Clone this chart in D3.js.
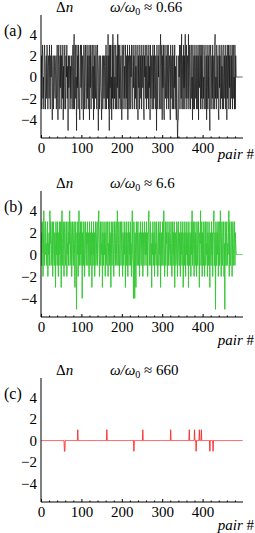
<!DOCTYPE html>
<html lang="en">
<head>
<meta charset="UTF-8">
<script src="https://d3js.org/d3.v7.min.js"></script>
<title>Delta n vs pair</title>
<style>
  body { margin: 0; background: #fff; }
  svg text { fill: #000; }
</style>
</head>
<body>
<svg id="graph" width="255" height="533"></svg>
<script>
// Delta n for each pair, panel (a) omega/omega0 ~ 0.66
var deltaA = [
  0, 2, -3, 1, 3, -2, 0, -3, 2, 3, -1, -3, 1, 2, -2, 3, 0, -3, 1, 2,
  -2, 3, -1, -3, 2, 0, 3, -2, -4, 1, 2, -3, 0, 2, -1, -2, 1, 2, -3, 0,
  3, -2, -4, 1, 3, -3, 0, 2, -1, 3, -3, 2, 0, -2, 3, -4, 1, -3, 2, 3,
  -1, -3, 2, 0, 3, -2, 1, -5, 2, -1, 0, 2, -3, 1, -2, 2, 0, -3, 1, 3,
  -3, 2, 4, -3, 1, 3, -2, 0, -5, 3, -1, 2, -3, 3, 0, -2, -4, 2, 3, -1,
  3, -3, 0, 2, -2, -4, 3, 1, -3, 2, 3, -1, -3, 0, 3, -2, 2, -3, 1, 3,
  -4, 2, -1, 3, -3, 0, 2, 3, -2, 1, -4, 3, -3, 2, 0, -2, 3, -1, -3, 2,
  3, -2, -5, 1, 2, -3, 0, 2, -1, -2, -4, 1, 2, -3, 0, 2, -2, 1, 2, -3,
  1, 3, -3, 2, 0, -2, 4, -3, 2, -5, 3, -1, 3, -3, 0, -4, 3, -2, 4, -3,
  2, 3, -2, 0, -3, 3, 1, -3, 2, -1, 4, -3, 3, 0, -2, 3, -3, 1, 2, -2,
  -4, 3, 0, -3, 2, 3, -2, 1, -3, 3, 0, -2, 2, -3, 3, -4, 1, 2, -3, 3,
  -1, -3, 2, 0, 3, -2, -3, 1, 3, -1, 2, -3, 0, 3, -2, 1, -3, 2, 3, 0,
  -4, 2, -1, 3, -3, 0, 2, -2, 3, -3, 1, 2, -1, 3, -3, -4, 2, 0, 3, -2,
  1, -3, 3, 0, -2, 2, -3, 3, -1, 1, -4, 3, -2, 0, 2, -3, 1, 3, -3, 2,
  -2, 3, 0, -3, 2, 1, -5, 3, -1, -3, 2, 0, 3, -2, -3, 2, 4, -3, 1, 3,
  -4, 2, -1, 3, -3, -4, 1, 3, -2, 0, 2, -3, 3, 1, -2, 3, -3, 0, 2, -1,
  -4, 3, -2, 1, 2, -3, 3, 0, -3, 2, -1, 3, -3, 1, -2, -4, 2, -3, -6, -4,
  -4, 2, 0, 3, -3, 1, 3, -2, 4, -3, 0, 2, -3, 3, -1, 2, -3, 4, 0, -2,
  3, -3, 1, 2, -2, 4, -3, 0, 3, -1, -3, 2, 3, -2, 0, -4, 3, -3, 1, 2,
  -3, 3, 0, -2, 2, -3, 3, 1, -3, 2, -4, 3, -1, 0, 3, -3, 2, -2, 3, -3,
  1, 3, -2, 0, -3, 2, 3, -1, -3, 2, -4, 3, 0, -3, 2, -2, 3, -3, -5, 2,
  3, -3, 0, 2, -2, 3, -3, 1, 2, -3, 3, 4, -2, 0, -3, 3, 1, -2, 2, -3,
  -4, 3, -1, 2, -3, 0, 3, -2, 1, -3, 2, 3, -3, 0, 2, -2, 3, -3, 1, 2,
  -4, 3, -2, 0, 3, -3, 2, -1, 3, -3, 0, 2, -2, 3, -3, 1, 3, -2, 0, -3,
  3, -3, 2, 0, 0, 0, 0, 0, 0, 0, 0, 0, 0, 0, 0, 0, 0, 0, 0, 0
];

// panel (b) omega/omega0 ~ 6.6
var deltaB = [
  0, 2, -1, 3, 1, -2, 0, 4, 1, -1, 2, 3, 0, 1, -1, 2, 3, -2, 1, 0,
  2, -1, 4, 1, 3, -1, 0, 2, 3, -2, 1, 3, 0, -1, 2, 1, -3, 3, 0, 2,
  -1, 3, 1, -2, 2, 0, 3, -1, 1, 3, -3, 2, 4, 0, -1, 3, 1, -2, 2, 3,
  0, -1, 2, 3, -2, 1, 0, 3, -1, 2, 1, 4, -1, 0, 3, 2, -2, 1, 3, 0,
  -1, 2, 3, 0, -3, 1, 3, -1, -5, 2, 0, 3, -2, 1, 4, -1, 2, 0, 3, -1,
  1, 3, -4, 2, 0, -1, 3, 1, -2, 2, 3, 0, -1, 2, 1, 3, -1, 0, 2, -2,
  3, 1, -1, 2, 0, 3, -3, 1, 2, -1, 3, 0, 2, -2, 1, 3, -1, 0, 2, 3,
  -1, 1, 3, 4, 0, -2, 2, 3, -1, 1, 0, 3, -3, 2, 1, -1, 3, 0, 2, -2,
  1, 3, 0, -1, 2, 3, -2, 1, 0, 3, -1, 2, 1, -3, 3, 0, -1, 2, 3, 1,
  -2, 0, 3, 1, -1, 2, 3, 0, -1, 4, 2, -1, 1, 3, -2, 0, 2, 3, -1, 1,
  3, 0, -2, 2, 1, -1, 3, 0, 2, -3, 1, 3, -1, 2, 0, -2, 3, 1, -1, 2,
  0, 3, -1, 1, -2, 2, 4, 0, -1, -4, 3, 1, -4, 2, 0, -3, 3, 1, -1, 2,
  3, -1, 0, 2, -2, 1, 3, 0, -1, 2, 1, 3, -2, 0, 2, -1, 3, 1, 0, 2,
  -1, 3, 0, 2, -2, 1, 3, 4, -1, 0, 2, 3, -1, 1, -3, 2, 0, 3, -1, 1,
  2, -2, 3, 0, 1, -1, 3, 2, 0, -2, 1, 3, -1, 2, 0, 3, -3, 1, 2, -1,
  0, 3, -1, 2, 4, 1, -2, 0, 3, -1, 2, 1, 3, -2, 0, 2, -1, 3, 1, 0,
  -1, 2, 3, 0, -2, 1, 3, -1, 2, 0, 3, -3, 1, 2, -1, 0, 3, 2, -2, 1,
  3, 0, -1, 2, 1, -2, 3, 0, 2, -1, 1, 3, -3, 0, 2, -1, 3, 1, -2, 2,
  0, 3, -1, 1, 2, -3, 3, 0, -1, 2, 1, -2, 3, 0, 4, -1, 2, 3, 0, -2,
  1, 3, -1, 2, 0, -2, 3, 1, -1, 2, 3, 0, -3, 2, 1, 4, -1, 0, 3, -2,
  2, 1, -1, 3, 0, -2, 2, 3, -1, 1, 0, 3, -2, 2, 1, -1, 3, 0, -3, 2,
  1, -1, 3, 0, 2, -2, 1, 3, 4, -1, 0, 2, -5, 3, 1, -1, 2, 0, 3, -2,
  1, 3, -1, 0, 4, 2, -2, 1, 3, -1, 0, 2, 3, -2, 1, -5, 3, 0, -1, 2,
  3, -1, 1, 0, 2, 4, -2, 3, 1, -1, 0, 3, 2, -2, 1, 3, -1, 0, 2, 3,
  -1, 2, 1, 0, 0, 0, 0, 0, 0, 0, 0, 0, 0, 0, 0, 0, 0, 0, 0, 0
];

// panel (c) omega/omega0 ~ 660: zero except these pairs
var pairsC  = [58, 59, 91, 163, 230, 252, 321, 367, 380, 384, 392, 397, 418, 426];
var valuesC = [-1, -1, 1, 1, -1, 1, 1, 1, 1, -1, 1, 1, -1, -1];
var nPairs = 500;

var xTicks = [0, 100, 200, 300, 400];
var yTicks = [-4, -2, 0, 2, 4];
var labels = ["(a)", "(b)", "(c)"];
var ratios = ["0.66", "6.6", "660"];

var deltaC = deltaA.map(function() { return 0; });
pairsC.forEach(function(p, i) { deltaC[p] = valuesC[i]; });

var panels = [
  {data: deltaA, color: "#111", width: 0.7, top: 15, bottom: 138, pairY: 159},
  {data: deltaB, color: "#36c836", width: 1.0, top: 191, bottom: 317, pairY: 345},
  {data: deltaC, color: "#ff2a2a", width: 0.9, top: 378, bottom: 502, pairY: 530}
];

var serif = "Liberation Serif";
var svg = d3.select("#graph");
var left = 41, right = 243;

var x = d3.scaleLinear().domain([0, nPairs]).range([left, right]);

panels.forEach(function(p, k) {
  var y = d3.scaleLinear().domain([-5.7, 5.8]).range([p.bottom, p.top]);
  var g = svg.append("g");

  g.append("clipPath").attr("id", "clip" + k)
    .append("rect")
    .attr("x", left).attr("y", p.top)
    .attr("width", right - left).attr("height", p.bottom - p.top);

  var line = d3.line()
    .x(function(d, i) { return x(i); })
    .y(function(d) { return y(d); });

  g.append("path")
    .datum(p.data)
    .attr("clip-path", "url(#clip" + k + ")")
    .attr("fill", "none")
    .attr("stroke", p.color)
    .attr("stroke-width", p.width)
    .attr("d", line);

  // x axis with inward ticks
  var xAxis = g.append("g")
    .attr("transform", "translate(0," + p.bottom + ")")
    .call(d3.axisBottom(x).tickValues(xTicks).tickSize(-3).tickPadding(4))
  xAxis.select(".domain").attr("d", "M" + left + ",0H" + right);
  xAxis.selectAll(".tick text")
    .style("font-family", serif)
    .style("font-size", "15px")
    .attr("dy", "0.72em");
  // minor ticks every 20
  g.append("g")
    .attr("transform", "translate(0," + p.bottom + ")")
    .call(d3.axisBottom(x).tickValues(d3.range(20, 500, 20).filter(function(v) { return v % 100; })).tickSize(-1.5).tickFormat(""))
    .select(".domain").remove();

  var yAxis = g.append("g")
    .attr("transform", "translate(" + left + ",0)")
    .call(d3.axisLeft(y).tickValues(yTicks).tickSize(0).tickPadding(4)
      .tickFormat(function(d) { return d < 0 ? "\u2212" + Math.abs(d) : d; }));
  yAxis.select(".domain").attr("d", "M0," + p.top + "V" + p.bottom);
  yAxis.selectAll(".tick text")
    .style("font-family", serif)
    .style("font-size", "15px");

  // panel letter
  g.append("text")
    .attr("x", 4).attr("y", p.top + 21)
    .style("font-family", serif).style("font-size", "16px")
    .text(labels[k]);

  // Delta n
  var dn = g.append("text")
    .attr("x", 56).attr("y", p.top - 3)
    .style("font-family", serif).style("font-size", "15px");
  dn.append("tspan").text("\u0394");
  dn.append("tspan").attr("font-style", "italic").text("n");

  // omega ratio
  var om = g.append("text")
    .attr("x", 110).attr("y", p.top - 3)
    .style("font-family", serif).style("font-size", "15px");
  om.append("tspan").attr("font-style", "italic").text("\u03C9/\u03C9");
  om.append("tspan").style("font-size", "10px").attr("dy", 3).text("0");
  om.append("tspan").attr("dy", -3).text(" \u2248 " + ratios[k]);

  // pair #
  var pr = g.append("text")
    .attr("x", 254).attr("y", p.pairY)
    .attr("text-anchor", "end")
    .style("font-family", serif).style("font-size", "15px");
  pr.append("tspan").attr("font-style", "italic").text("pair");
  pr.append("tspan").text(" #");
});
</script>
</body>
</html>
